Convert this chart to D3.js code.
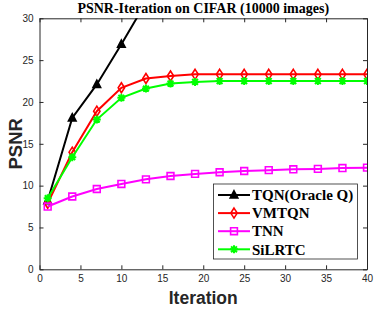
<!DOCTYPE html>
<html>
<head>
<meta charset="utf-8">
<script src="https://cdn.jsdelivr.net/npm/d3@7"></script>
<style>
  body { margin: 0; background: #fff; }
  svg { display: block; }
</style>
</head>
<body>
<div id="chart"></div>
<script>
// ----- data ----- //
const iterations = [1, 4, 7, 10, 13, 16, 19, 22, 25, 28, 31, 34, 37, 40];
const tqn    = [8.2, 18.1, 22.1, 26.9, 31.9];
const vmtqn  = [7.9, 14.0, 18.9, 21.7, 22.8, 23.1, 23.3, 23.3, 23.3, 23.3, 23.3, 23.3, 23.3, 23.3];
const tnn    = [7.5, 8.7, 9.6, 10.2, 10.75, 11.15, 11.4, 11.6, 11.75, 11.85, 11.95, 12.0, 12.1, 12.15];
const silrtc = [8.5, 13.4, 17.9, 20.5, 21.6, 22.2, 22.4, 22.5, 22.5, 22.5, 22.5, 22.5, 22.5, 22.5];
const xTicks = [0, 5, 10, 15, 20, 25, 30, 35, 40];
const yTicks = [0, 5, 10, 15, 20, 25, 30];

const series = [
  { name: "TQN(Oracle Q)", values: tqn,    color: "#000000", marker: "triangle" },
  { name: "VMTQN",         values: vmtqn,  color: "#ff0000", marker: "diamond" },
  { name: "TNN",           values: tnn,    color: "#ff00ff", marker: "square" },
  { name: "SiLRTC",        values: silrtc, color: "#00ff00", marker: "star" }
];

const W = 374, H = 309;
const margin = { top: 18.3, right: 7, bottom: 39.7, left: 39.5 };
const width = W - margin.left - margin.right;
const height = H - margin.top - margin.bottom;

const svg = d3.select("#chart").append("svg")
  .attr("width", W)
  .attr("height", H);

const graph = svg.append("g")
  .attr("transform", `translate(${margin.left},${margin.top})`);

const x = d3.scaleLinear().domain([0, 40]).range([0, width]);
const y = d3.scaleLinear().domain([0, 30]).range([height, 0]);

// clip so TQN runs off the top
svg.append("defs").append("clipPath").attr("id", "clip")
  .append("rect").attr("x", 0).attr("y", 0).attr("width", width).attr("height", height);

// axes (ticks pointing inward, box around)
const tickFont = "Liberation Sans, Arial, sans-serif";

const gx = graph.append("g").attr("transform", `translate(0,${height})`)
  .call(d3.axisBottom(x).tickValues(xTicks).tickSizeInner(-4).tickSizeOuter(0).tickPadding(6));
const gy = graph.append("g")
  .call(d3.axisLeft(y).tickValues(yTicks).tickSizeInner(-4).tickSizeOuter(0).tickPadding(6));
const gxTop = graph.append("g")
  .call(d3.axisTop(x).tickValues(xTicks).tickSizeInner(-4).tickSizeOuter(0).tickFormat(""));
const gyRight = graph.append("g").attr("transform", `translate(${width},0)`)
  .call(d3.axisRight(y).tickValues(yTicks).tickSizeInner(-4).tickSizeOuter(0).tickFormat(""));

[gx, gy, gxTop, gyRight].forEach(g => {
  g.select(".domain").attr("stroke", "#262626").attr("stroke-width", 1);
  g.selectAll(".tick line").attr("stroke", "#262626");
  g.selectAll("text")
    .style("font-family", tickFont)
    .style("font-size", "10px")
    .attr("fill", "#262626");
});
gy.selectAll("text").attr("dy", "0.32em");

// lines
const line = d3.line()
  .x((d, i) => x(iterations[i]))
  .y(d => y(d));

const plot = graph.append("g").attr("clip-path", "url(#clip)");

function markerPath(type) {
  if (type === "triangle") return "M0,-4.2L3.8,3L-3.8,3Z";
  if (type === "diamond") return "M0,-5L3.2,0L0,5L-3.2,0Z";
  if (type === "square") return "M-3.4,-3.4H3.4V3.4H-3.4Z";
  // asterisk
  return "M-4,0H4M0,-4V4M-2.9,-2.9L2.9,2.9M-2.9,2.9L2.9,-2.9";
}

series.forEach(s => {
  plot.append("path")
    .datum(s.values)
    .attr("fill", "none")
    .attr("stroke", s.color)
    .attr("stroke-width", 2)
    .attr("d", line);

  plot.selectAll(null)
    .data(s.values)
    .enter()
    .append("path")
    .attr("transform", (d, i) => `translate(${x(iterations[i])},${y(d)})`)
    .attr("d", markerPath(s.marker))
    .attr("fill", s.marker === "triangle" ? s.color : "none")
    .attr("stroke", s.color)
    .attr("stroke-width", s.marker === "star" ? 2 : 1.6);
});

// title and axis labels
svg.append("text")
  .attr("x", margin.left + width / 2)
  .attr("y", 12.5)
  .attr("text-anchor", "middle")
  .style("font-family", "Liberation Serif, Times New Roman, serif")
  .style("font-weight", "bold")
  .style("font-size", "14px")
  .text("PSNR-Iteration on CIFAR (10000 images)");

svg.append("text")
  .attr("x", margin.left + width / 2)
  .attr("y", 304)
  .attr("text-anchor", "middle")
  .style("font-family", tickFont)
  .style("font-weight", "bold")
  .style("font-size", "17.5px")
  .attr("fill", "#262626")
  .text("Iteration");

svg.append("text")
  .attr("transform", `translate(22,${margin.top + height / 2}) rotate(-90)`)
  .attr("text-anchor", "middle")
  .style("font-family", tickFont)
  .style("font-weight", "bold")
  .style("font-size", "18.5px")
  .attr("fill", "#262626")
  .text("PSNR");

// legend
const legend = svg.append("g").attr("transform", "translate(213.5,184)");
legend.append("rect")
  .attr("width", 144)
  .attr("height", 75)
  .attr("fill", "#fff")
  .attr("stroke", "#262626")
  .attr("stroke-width", 0.8);

series.forEach((s, i) => {
  const yy = 11 + i * 18.1;
  legend.append("line")
    .attr("x1", 4.5).attr("x2", 36.5)
    .attr("y1", yy).attr("y2", yy)
    .attr("stroke", s.color)
    .attr("stroke-width", 2);
  legend.append("path")
    .attr("transform", `translate(20.5,${yy})`)
    .attr("d", markerPath(s.marker))
    .attr("fill", s.marker === "triangle" ? s.color : "none")
    .attr("stroke", s.color)
    .attr("stroke-width", s.marker === "star" ? 2 : 1.6);
  legend.append("text")
    .attr("x", 38.5)
    .attr("y", yy)
    .attr("dy", "0.35em")
    .style("font-family", "Liberation Serif, Times New Roman, serif")
    .style("font-weight", "bold")
    .style("font-size", "15px")
    .text(s.name);
});
</script>
</body>
</html>
